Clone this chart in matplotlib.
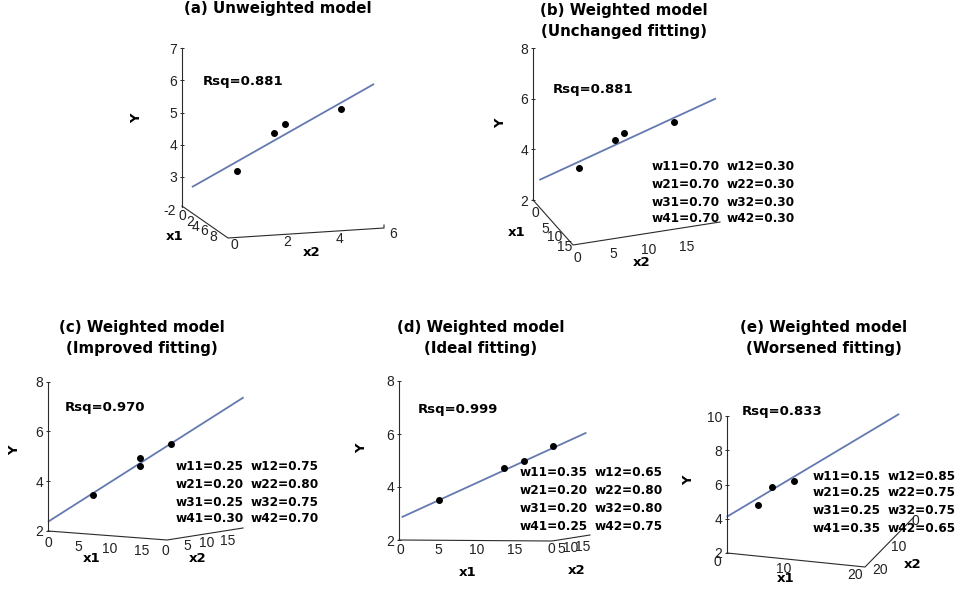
import matplotlib
matplotlib.use("Agg")
import matplotlib.pyplot as plt
from matplotlib.lines import Line2D
from matplotlib.transforms import Affine2D

# ---------------- data ----------------
titles = ["(a) Unweighted model",
          "(b) Weighted model\n(Unchanged fitting)",
          "(c) Weighted model\n(Improved fitting)",
          "(d) Weighted model\n(Ideal fitting)",
          "(e) Weighted model\n(Worsened fitting)"]
rsq_labels = ["Rsq=0.881", "Rsq=0.881", "Rsq=0.970", "Rsq=0.999", "Rsq=0.833"]

# projected horizontal position (units of the horizontal floor axis) and Y
a_x = [0.16, 1.55, 1.96, 4.04]
a_y = [3.19, 4.37, 4.64, 5.11]
a_fit_x = [-1.54, 5.29]
a_fit_y = [2.68, 5.89]

b_x = [0.27, 5.14, 6.41, 13.23]
b_y = [3.25, 4.37, 4.66, 5.07]
b_fit_x = [-5.14, 18.96]
b_fit_y = [2.79, 6.01]

c_x = [7.13, 14.67, 14.67, 19.57]
c_y = [3.44, 4.93, 4.62, 5.48]
c_fit_x = [0.0, 31.2]
c_fit_y = [2.36, 7.37]

d_x = [5.13, 13.6, 16.2, 19.9]
d_y = [3.51, 4.71, 5.00, 5.53]
d_fit_x = [0.22, 24.3]
d_fit_y = [2.86, 6.05]

e_x = [5.9, 7.9, 11.2]
e_y = [4.80, 5.87, 6.20]
e_fit_x = [1.4, 26.4]
e_fit_y = [4.11, 10.12]

a_yticks = [3, 4, 5, 6, 7]
b_yticks = [2, 4, 6, 8]
c_yticks = [2, 4, 6, 8]
d_yticks = [2, 4, 6, 8]
e_yticks = [2, 4, 6, 8, 10]

a_x1_ticks = ["-2", "0", "2", "4", "6", "8"]
a_x2_ticks = ["0", "2", "4", "6"]
b_x1_ticks = ["0", "5", "10", "15"]
b_x2_ticks = ["0", "5", "10", "15"]
c_x1_ticks = ["0", "5", "10", "15"]
c_x2_ticks = ["0", "5", "10", "15"]
d_x1_ticks = ["0", "5", "10", "15"]
d_x2_ticks = ["0", "5", "10", "15"]
e_x1_ticks = ["0", "10", "20"]
e_x2_ticks = ["20", "10", "0"]

b_w1 = ["w11=0.70", "w21=0.70", "w31=0.70", "w41=0.70"]
b_w2 = ["w12=0.30", "w22=0.30", "w32=0.30", "w42=0.30"]
c_w1 = ["w11=0.25", "w21=0.20", "w31=0.25", "w41=0.30"]
c_w2 = ["w12=0.75", "w22=0.80", "w32=0.75", "w42=0.70"]
d_w1 = ["w11=0.35", "w21=0.20", "w31=0.20", "w41=0.25"]
d_w2 = ["w12=0.65", "w22=0.80", "w32=0.80", "w42=0.75"]
e_w1 = ["w11=0.15", "w21=0.25", "w31=0.25", "w41=0.35"]
e_w2 = ["w12=0.85", "w22=0.75", "w32=0.75", "w42=0.65"]

# ---------------- layout (reference pixels) ----------------
W, H = 962, 589
fig = plt.figure(figsize=(W / 100, H / 100), dpi=100)
fig.patch.set_facecolor("white")
pix = Affine2D().scale(1 / W, -1 / H).translate(0, 1) + fig.transFigure

LINE_C = "#6479b0"
AX_C = "#2a2a2a"
TICK_FONT = dict(family="Liberation Sans", fontsize=10, color="#222222")
BOLD = "DejaVu Sans"

panels = [
    dict(x=a_x, y=a_y, fx=a_fit_x, fy=a_fit_y, yt=a_yticks,
         axpx=182, top=48.3, bot=207, ytop=7, ybot=2.06, right=400, x0=233, ppx=26.67,
         floor=[(182, 206), (228, 238), (384, 228), (384, 225)],
         x1t=a_x1_ticks, x1p=[(170, 211), (182, 216), (190, 222), (196, 227), (204, 231), (213, 237)],
         x2t=a_x2_ticks, x2p=[(234, 245), (287, 242), (340, 239), (393, 234)],
         x1l=(175, 236), x2l=(312, 252), yl=(137, 118),
         title=(278, 9), rsq=(203, 81), w=None),
    dict(x=b_x, y=b_y, fx=b_fit_x, fy=b_fit_y, yt=b_yticks,
         axpx=533, top=48, bot=200, ytop=8, ybot=2, right=725, x0=577, ppx=7.33,
         floor=[(533, 200), (573, 245), (720, 222)],
         x1t=b_x1_ticks, x1p=[(535, 213), (545, 229), (555, 237), (565, 247)],
         x2t=b_x2_ticks, x2p=[(577, 258), (613, 254), (649, 250), (687, 247)],
         x1l=(517, 232), x2l=(642, 262), yl=(501, 123),
         title=(624, 21), rsq=(553, 89),
         w=(b_w1, b_w2, 652, [167, 184, 202, 218])),
    dict(x=c_x, y=c_y, fx=c_fit_x, fy=c_fit_y, yt=c_yticks,
         axpx=48, top=381.7, bot=530.7, ytop=8, ybot=2, right=250, x0=48, ppx=6.27,
         floor=[(48, 531), (167, 540), (243, 528)],
         x1t=c_x1_ticks, x1p=[(48, 543), (78, 547), (110, 549), (142, 551)],
         x2t=c_x2_ticks, x2p=[(165, 551), (187, 546), (207, 543), (228, 541)],
         x1l=(92, 558), x2l=(198, 558), yl=(15, 450),
         title=(142, 338), rsq=(65, 408),
         w=(c_w1, c_w2, 176, [467, 484, 502, 519])),
    dict(x=d_x, y=d_y, fx=d_fit_x, fy=d_fit_y, yt=d_yticks,
         axpx=399, top=381, bot=540, ytop=8, ybot=2, right=600, x0=400, ppx=7.67,
         floor=[(399, 540), (552, 541), (590, 535)],
         x1t=d_x1_ticks, x1p=[(400, 550), (438, 550), (477, 550), (515, 550)],
         x2t=d_x2_ticks, x2p=[(551, 549), (561, 549), (571, 548), (583, 547)],
         x1l=(468, 573), x2l=(577, 570), yl=(362, 448),
         title=(481, 338), rsq=(418, 410),
         w=(d_w1, d_w2, 520, [473, 491, 508, 526])),
    dict(x=e_x, y=e_y, fx=e_fit_x, fy=e_fit_y, yt=e_yticks,
         axpx=727, top=416, bot=553, ytop=10, ybot=2, right=910, x0=717, ppx=6.9,
         floor=[(727, 553), (865, 567), (913, 518)],
         x1t=e_x1_ticks, x1p=[(717, 562), (784, 569), (855, 575)],
         x2t=e_x2_ticks, x2p=[(880, 570), (899, 547), (915, 521)],
         x1l=(786, 578), x2l=(913, 564), yl=(689, 480),
         title=(824, 338), rsq=(742, 412),
         w=(e_w1, e_w2, 813, [476, 493, 511, 528])),
]

for p, title, rs in zip(panels, titles, rsq_labels):
    ax = fig.add_axes([p["axpx"] / W, 1 - p["bot"] / H,
                       (p["right"] - p["axpx"]) / W, (p["bot"] - p["top"]) / H])
    ax.patch.set_visible(False)
    ax.set_ylim(p["ybot"], p["ytop"])
    ax.set_xlim((p["axpx"] - p["x0"]) / p["ppx"], (p["right"] - p["x0"]) / p["ppx"])
    for s in ["top", "right", "bottom"]:
        ax.spines[s].set_visible(False)
    ax.spines["left"].set_color(AX_C)
    ax.spines["left"].set_linewidth(0.8)
    ax.set_xticks([])
    ax.set_yticks(p["yt"])
    ax.set_yticklabels([str(v) for v in p["yt"]], **TICK_FONT)
    ax.tick_params(axis="y", direction="inout", length=3, width=0.7, pad=2, color=AX_C)

    ax.plot(p["fx"], p["fy"], color=LINE_C, lw=1.3, solid_capstyle="butt", clip_on=False)
    ax.plot(p["x"], p["y"], "o", color="black", ms=4.0, clip_on=False)

    # floor axes (decoration)
    fx_, fy_ = zip(*p["floor"])
    fig.add_artist(Line2D(fx_, fy_, transform=pix, color=AX_C, lw=0.8))
    for lab, (tx, ty) in zip(p["x1t"], p["x1p"]):
        fig.text(tx, ty, lab, transform=pix, ha="center", va="center", **TICK_FONT)
    for lab, (tx, ty) in zip(p["x2t"], p["x2p"]):
        fig.text(tx, ty, lab, transform=pix, ha="center", va="center", **TICK_FONT)
    fig.text(*p["x1l"], "x1", transform=pix, ha="center", va="center",
             family=BOLD, fontweight="bold", fontsize=9.5)
    fig.text(*p["x2l"], "x2", transform=pix, ha="center", va="center",
             family=BOLD, fontweight="bold", fontsize=9.5)
    fig.text(*p["yl"], "Y", transform=pix, ha="center", va="center", rotation=90,
             family=BOLD, fontweight="bold", fontsize=9.5)

    fig.text(*p["title"], title, transform=pix, ha="center", va="center",
             family=BOLD, fontweight="bold", fontsize=10.8, linespacing=1.45)
    fig.text(*p["rsq"], rs, transform=pix, ha="left", va="center",
             family=BOLD, fontweight="bold", fontsize=9.5)
    if p["w"] is not None:
        w1, w2, left, rows = p["w"]
        for s1, s2, ry in zip(w1, w2, rows):
            fig.text(left, ry, s1, transform=pix, ha="left", va="center",
                     family=BOLD, fontweight="bold", fontsize=8.7)
            fig.text(left + 75, ry, s2, transform=pix, ha="left", va="center",
                     family=BOLD, fontweight="bold", fontsize=8.7)

fig.savefig("out.png", dpi=100, facecolor="white")
